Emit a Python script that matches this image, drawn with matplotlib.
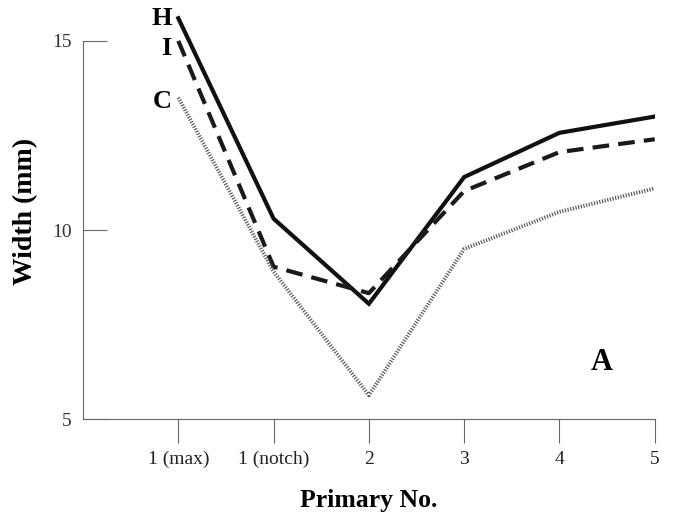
import matplotlib.pyplot as plt

plt.rcParams['font.family'] = ['Liberation Serif', 'DejaVu Serif']

primaries = ["1 (max)", "1 (notch)", "2", "3", "4", "5"]
h_width = [15.6, 10.3, 8.05, 11.4, 12.57, 13.0]
i_width = [15.0, 9.03, 8.33, 11.03, 12.06, 12.4]
c_width = [13.5, 8.9, 5.63, 9.5, 10.48, 11.1]

x = list(range(1, len(primaries) + 1))

fig = plt.figure(figsize=(6.75, 5.13), dpi=100)
ax = fig.add_axes([0.123, 0.183, 0.847, 0.811])

ax.plot(x, h_width, color="#111111", lw=3.0, solid_joinstyle="miter")
ax.plot(x, i_width, color="#1a1a1a", lw=3.0, linestyle=(0, (4, 2.2)))
ax.plot(x, c_width, color="#555555", lw=2.8, linestyle=(0, (0.3, 0.4)))

# series labels at the start of each line
ax.text(0.93, 15.58, "H", fontsize=19, fontweight="bold", ha="right", va="center")
ax.text(0.93, 14.79, "I", fontsize=19, fontweight="bold", ha="right", va="center")
ax.text(0.93, 13.41, "C", fontsize=19, fontweight="bold", ha="right", va="center")
ax.text(5.44, 6.51, "A", fontsize=22, fontweight="bold", ha="center", va="center")

ax.set_xlim(0, 6)
ax.set_ylim(5, 16)
ax.set_xticks(x)
ax.set_xticklabels(primaries)
ax.set_yticks([5, 10, 15])

for s in ["top", "right"]:
    ax.spines[s].set_visible(False)
ax.spines["left"].set_bounds(5, 15)
for s in ["left", "bottom"]:
    ax.spines[s].set_color("#666666")
    ax.spines[s].set_linewidth(0.8)

ax.tick_params(axis="y", direction="in", length=17, width=0.8, color="#666666",
               labelsize=14, pad=8, labelcolor="#333333")
ax.tick_params(axis="x", direction="out", length=17, width=0.8, color="#666666",
               labelsize=14, pad=6, labelcolor="#222222")

ax.set_xlabel("Primary No.", fontsize=18.5, fontweight="bold", labelpad=15)
ax.set_ylabel("Width (mm)", fontsize=20, fontweight="bold", labelpad=10)

fig.savefig("out.png", dpi=100)
